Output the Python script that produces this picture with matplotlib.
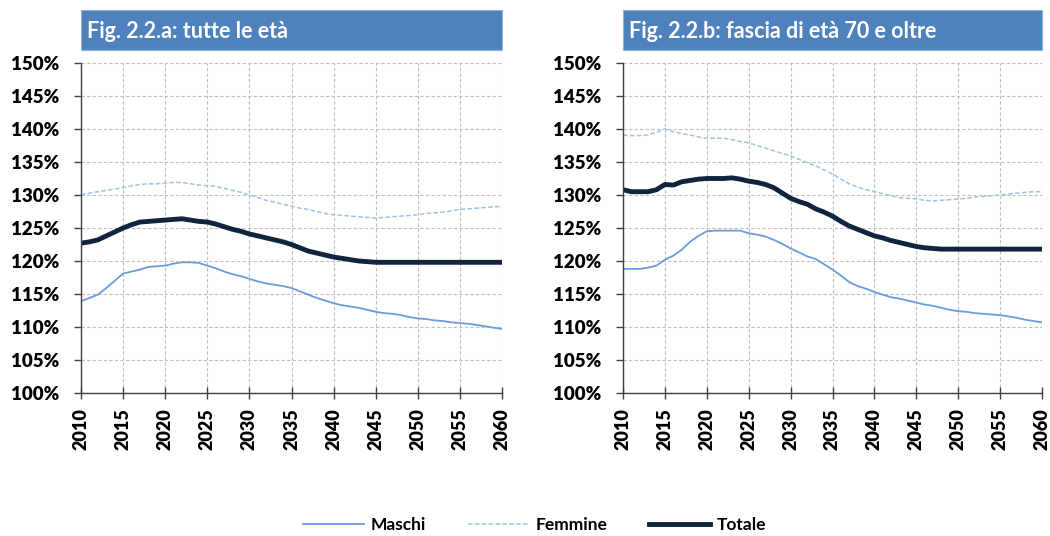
import numpy as np
import matplotlib.pyplot as plt
from matplotlib.patches import Rectangle
from matplotlib.ticker import PercentFormatter

plt.rcParams['font.family'] = ['Lato', 'DejaVu Sans']

years = list(range(2010, 2061))

# Fig. 2.2.a: tutte le eta
maschi_a = [113.9, 114.4, 114.9, 115.9, 117.0, 118.1, 118.4, 118.7, 119.1, 119.2,
            119.3, 119.6, 119.8, 119.8, 119.7, 119.3, 118.9, 118.4, 118.0, 117.7,
            117.3, 116.9, 116.6, 116.4, 116.2, 115.9, 115.4, 114.9, 114.4, 114.0,
            113.6, 113.3, 113.1, 112.9, 112.6, 112.3, 112.1, 112.0, 111.8, 111.5,
            111.3, 111.2, 111.0, 110.9, 110.7, 110.6, 110.5, 110.3, 110.1, 109.9,
            109.7]
femmine_a = [130.05, 130.3, 130.5, 130.7, 130.9, 131.1, 131.4, 131.6, 131.7, 131.7,
             131.8, 131.9, 131.9, 131.7, 131.5, 131.4, 131.3, 131.0, 130.7, 130.4,
             130.0, 129.6, 129.2, 128.9, 128.6, 128.3, 128.0, 127.8, 127.5, 127.2,
             127.0, 126.9, 126.8, 126.7, 126.6, 126.5, 126.6, 126.7, 126.8, 126.9,
             127.0, 127.2, 127.3, 127.4, 127.6, 127.8, 127.9, 128.0, 128.1, 128.2,
             128.3]
totale_a = [122.7, 122.9, 123.2, 123.8, 124.4, 125.0, 125.5, 125.9, 126.0, 126.1,
            126.2, 126.3, 126.4, 126.2, 126.0, 125.9, 125.6, 125.2, 124.8, 124.5,
            124.1, 123.8, 123.5, 123.2, 122.9, 122.5, 122.0, 121.5, 121.2, 120.9,
            120.6, 120.4, 120.2, 120.0, 119.9, 119.8, 119.8, 119.8, 119.8, 119.8,
            119.8, 119.8, 119.8, 119.8, 119.8, 119.8, 119.8, 119.8, 119.8, 119.8,
            119.8]

# Fig. 2.2.b: fascia di eta 70 e oltre
maschi_b = [118.8, 118.8, 118.8, 119.0, 119.3, 120.2, 120.8, 121.7, 122.9, 123.8,
            124.5, 124.6, 124.6, 124.6, 124.6, 124.2, 124.0, 123.7, 123.2, 122.6,
            121.9, 121.3, 120.7, 120.3, 119.5, 118.7, 117.8, 116.8, 116.2, 115.8,
            115.3, 114.9, 114.5, 114.3, 114.0, 113.7, 113.4, 113.2, 112.9, 112.6,
            112.4, 112.3, 112.1, 112.0, 111.9, 111.8, 111.6, 111.4, 111.1, 110.9,
            110.7]
femmine_b = [139.1, 139.0, 139.0, 139.1, 139.5, 140.0, 139.6, 139.3, 139.1, 138.8,
             138.6, 138.6, 138.6, 138.4, 138.1, 137.9, 137.5, 137.1, 136.7, 136.3,
             135.9, 135.4, 134.9, 134.4, 133.8, 133.2, 132.4, 131.7, 131.2, 130.8,
             130.5, 130.2, 129.9, 129.6, 129.5, 129.4, 129.2, 129.1, 129.2, 129.3,
             129.4, 129.5, 129.7, 129.8, 129.9, 130.0, 130.1, 130.3, 130.4, 130.5,
             130.5]
totale_b = [130.8, 130.5, 130.5, 130.5, 130.8, 131.6, 131.5, 132.0, 132.2, 132.4,
            132.5, 132.5, 132.5, 132.6, 132.4, 132.1, 131.9, 131.6, 131.1, 130.3,
            129.5, 129.0, 128.6, 127.9, 127.4, 126.8, 126.0, 125.3, 124.8, 124.3,
            123.8, 123.5, 123.1, 122.8, 122.5, 122.2, 122.0, 121.9, 121.8, 121.8,
            121.8, 121.8, 121.8, 121.8, 121.8, 121.8, 121.8, 121.8, 121.8, 121.8,
            121.8]

titles = ['Fig. 2.2.a: tutte le età', 'Fig. 2.2.b: fascia di età 70 e oltre']
xticks = list(range(2010, 2061, 5))
yticks = list(range(100, 151, 5))

W, H = 1050, 536
fig = plt.figure(figsize=(W / 100, H / 100), dpi=100)

panels = [
    (81, 502, maschi_a, femmine_a, totale_a),
    (623, 1042, maschi_b, femmine_b, totale_b),
]

for (x0, x1, m, f, t), title in zip(panels, titles):
    ax = fig.add_axes([x0 / W, 1 - 393 / H, (x1 - x0) / W, 330 / H])
    lm, = ax.plot(years, m, color='#6A9CDC', lw=1.3, label='Maschi')
    lf, = ax.plot(years, f, color='#9DC3E6', lw=1.1, ls=(0, (3, 1.5)), label='Femmine')
    lt, = ax.plot(years, t, color='#10243E', lw=3.5, label='Totale')
    ax.set_xlim(2010, 2060)
    ax.set_ylim(100, 150)
    ax.set_xticks(xticks)
    ax.set_yticks(yticks)
    ax.yaxis.set_major_formatter(PercentFormatter(decimals=0))
    ax.grid(True, color='#BFBFBF', ls=(0, (3, 2)), lw=0.8)
    ax.set_axisbelow(True)
    for s in ['top', 'right']:
        ax.spines[s].set_visible(False)
    for s in ['left', 'bottom']:
        ax.spines[s].set_color('#404040')
        ax.spines[s].set_linewidth(1.0)
    ax.tick_params(axis='x', direction='inout', length=8, width=1, color='#404040',
                   labelrotation=90, labelsize=13, pad=7)
    ax.tick_params(axis='y', direction='out', length=5, width=1, color='#404040',
                   labelsize=13.5, pad=11)
    for lab in ax.get_xticklabels() + ax.get_yticklabels():
        lab.set_fontweight('heavy')
    # title box
    fig.patches.append(Rectangle((x0 / W, 1 - 50 / H), (x1 - x0) / W, 40 / H,
                                 transform=fig.transFigure, facecolor='#4F81BD',
                                 edgecolor='#8EB1DA', lw=0.8))
    fig.text((x0 + 6) / W, 1 - 31 / H, title, color='white', fontsize=15.5,
             fontweight='bold', va='center', ha='left')

fig.legend(handles=[lm, lf, lt], loc='center', bbox_to_anchor=(0.509, 1 - 525 / H),
           ncol=3, frameon=False, handlelength=3.5, handletextpad=0.4, columnspacing=2.4,
           prop={'weight': 'bold', 'size': 12.5})

fig.savefig('out.png', dpi=100)
